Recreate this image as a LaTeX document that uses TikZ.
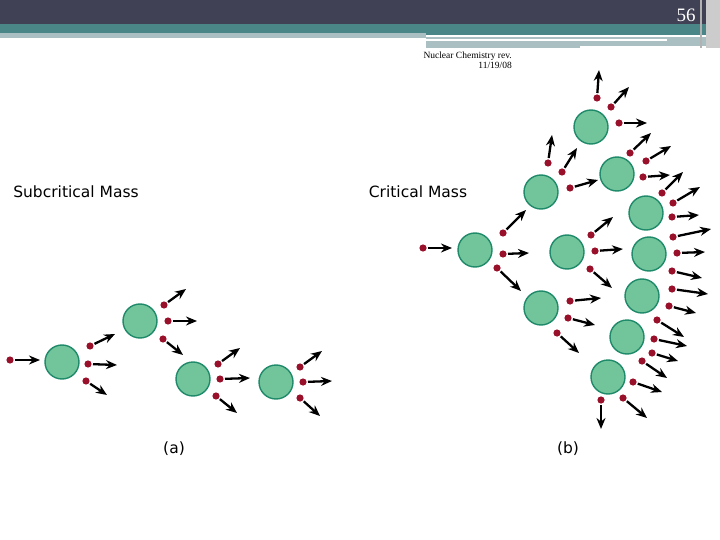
\documentclass[tikz,border=0pt]{standalone}
\usepackage{fontspec}
\setmainfont{DejaVu Sans}
\newfontfamily\serifx{Liberation Serif}
\usetikzlibrary{arrows.meta}
\definecolor{nucfill}{HTML}{72C59B}
\definecolor{nucline}{HTML}{1F8A6A}
\definecolor{neut}{HTML}{99102A}
\definecolor{topbar}{HTML}{414155}
\definecolor{teal}{HTML}{4A8588}
\definecolor{lteal}{HTML}{A9BFC2}
\tikzset{nuc/.style={fill=nucfill,draw=nucline,line width=1.4pt},
 neu/.style={fill=neut},
 flight/.style={-{Stealth[length=11pt,width=9pt]},line width=2.3pt,shorten <=5pt},
 lab/.style={font=\fontsize{15.5}{18}\selectfont,inner sep=0pt}}
\begin{document}
\begin{tikzpicture}[x=1pt,y=-1pt]
\useasboundingbox (0,0) rectangle (720,540);
% header
\fill[topbar] (0,0) rectangle (720,24);
\fill[teal] (0,24) rectangle (720,35);
\fill[lteal] (0,33) rectangle (426,38);
\fill[lteal] (426,37) rectangle (720,48);
\fill[white] (426,39) rectangle (667,41);
\fill[white] (580,46) rectangle (707,50);
\fill[gray!60] (700,0) rectangle (702,48);
\fill[gray!40] (706,0) rectangle (720,48);
\node[text=white,font=\serifx\fontsize{19}{19}\selectfont,inner sep=0pt] (pg) at (686,15) {56};
\node[font=\serifx\fontsize{9.5}{10}\selectfont,align=right,anchor=north east,inner sep=0pt] (hd) at (512,52) {Nuclear Chemistry rev.\\11/19/08};
% labels
\node[lab] (sub) at (76,192) {Subcritical Mass};
\node[lab] (crit) at (418,192) {Critical Mass};
\node[lab] (a) at (174,449) {(a)};
\node[lab] (b) at (568,449) {(b)};
% nuclei
\foreach \x/\y in {62/362,140/321,193/379,276/382,
  475/250,567/252,541/308,591/127,541/192,617/174,646/213,649/254,642/296,627/337,608/377}
  \draw[nuc] (\x,\y) circle (17);
% neutrons
\foreach \a/\b/\c/\d in {10/360/40/360,
 90/346/115/334, 88/364/117/365, 86/381/107/395,
 164/305/186/289, 168/321/197/321, 163/339/183/355,
 218/364/240/348, 220/379/250/378, 216/396/237/413,
 300/367/322/351, 303/382/332/381, 300/398/320/416,
 423/248/452/248,
 503/233/526/210, 503/254/529/253, 497/268/521/291,
 591/235/613/217, 595/251/623/249, 590/269/612/288,
 570/301/601/298, 568/318/595/325, 557/333/579/353,
 597/98/599/70, 611/107/629/87, 619/123/647/123,
 548/163/552/135, 562/172/577/148, 570/188/598/180,
 630/153/651/133, 646/161/671/146, 643/177/670/175,
 662/193/683/172, 673/203/700/187, 672/217/699/215,
 673/237/711/229, 677/253/705/252, 672/271/702/278,
 672/289/708/294, 669/306/696/313,
 657/320/684/337, 654/339/687/346, 652/353/678/361,
 642/361/667/378, 633/382/662/392, 623/398/647/418, 601/400/601/429}
 {\fill[neu] (\a,\b) circle (3.6);
  \draw[flight] (\a,\b) -- (\c,\d);}
\end{tikzpicture}
\end{document}
